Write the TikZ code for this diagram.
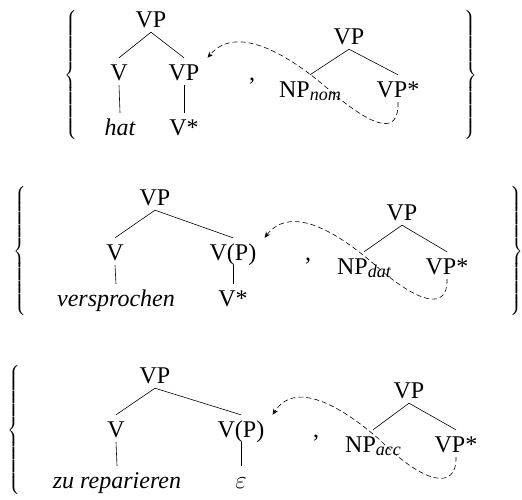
\documentclass[tikz,border=0pt]{standalone}
\usepackage{exscale}
\usepackage{fontspec}
\setmainfont{Liberation Serif}
\usetikzlibrary{arrows.meta}
\newcommand{\casesub}[1]{\raisebox{-3pt}{\fontsize{18}{18}\selectfont\itshape #1}}
\newcommand{\openset}{$\delimiterfactor=1000\delimitershortfall=0pt\left\{\vrule height 58pt depth 58pt width 0pt\right.$}
\newcommand{\closeset}{$\delimiterfactor=1000\delimitershortfall=0pt\left.\vrule height 58pt depth 58pt width 0pt\right\}$}

\begin{document}
\begin{tikzpicture}[
	x=1pt, y=-1pt,
	font=\fontsize{24}{28}\selectfont,
	cat/.style={ anchor=base, inner xsep=1pt, inner ysep=5pt, text height=17pt, text depth=0pt },
	edge/.style={ line width=0.6pt },
	move/.style={ -{Stealth[length=6pt,width=5pt]}, line width=0.6pt, dash pattern=on 5pt off 3pt },
	setbrace/.style={ font=\fontsize{14}{14}\selectfont, inner sep=0pt }
]
\useasboundingbox (0,0) rectangle (522,499);

% hat
\node at (71,75) (lb1) [setbrace] {\openset};
\node at (470,75) (rb1) [setbrace] {\closeset};
\node at (151,27) (vp1) [cat] {VP};
\node at (119,80) (v1) [cat] {V};
\node at (184,80) (vpb1) [cat] {VP};
\node at (120,135) (hat) [cat] {\itshape hat};
\node at (184,135) (vs1) [cat] {V*};
\draw[edge] (vp1.south) -- (v1.north);
\draw[edge] (vp1.south) -- (vpb1.north);
\draw[edge] (v1.south) -- (hat.north);
\draw[edge] (vpb1.south) -- (vs1.north);
\node at (252,80) (cm1) [cat] {,};
\node at (349,44) (vpr1) [cat] {VP};
\node at (310,97) (np1) [cat] {NP\casesub{nom}};
\node at (398,97) (vps1) [cat] {VP*};
\draw[edge] (vpr1.south) -- (np1.north);
\draw[edge] (vpr1.south) -- (vps1.north);
\draw[move] (vps1.south) .. controls (399,135) and (375,128) .. (335,95)
	.. controls (285,50) and (235,25) .. ([xshift=7pt]vpb1.north east);

% versprochen
\node at (20,251) (lb2) [setbrace] {\openset};
\node at (516,251) (rb2) [setbrace] {\closeset};
\node at (155,205) (vp2) [cat] {VP};
\node at (115,260) (v2) [cat] {V};
\node at (233,260) (vpb2) [cat] {V(P)};
\node at (116,306) (versp) [cat] {\itshape versprochen};
\node at (233,306) (vs2) [cat] {V*};
\draw[edge] (vp2.south) -- (v2.north);
\draw[edge] (vp2.south) -- (vpb2.north);
\draw[edge] (v2.south) -- (versp.north);
\draw[edge] (vpb2.south) -- (vs2.north);
\node at (308,260) (cm2) [cat] {,};
\node at (402,220) (vpr2) [cat] {VP};
\node at (364,274) (np2) [cat] {NP\casesub{dat}};
\node at (447,274) (vps2) [cat] {VP*};
\draw[edge] (vpr2.south) -- (np2.north);
\draw[edge] (vpr2.south) -- (vps2.north);
\draw[move] (vps2.south) .. controls (448,310) and (420,305) .. (375,265)
	.. controls (335,230) and (290,205) .. ([xshift=7pt]vpb2.north east);

% zu reparieren
\node at (15,430) (lb3) [setbrace] {\openset};
\node at (155,383) (vp3) [cat] {VP};
\node at (116,437) (v3) [cat] {V};
\node at (241,437) (vpb3) [cat] {V(P)};
\node at (117,488) (zurep) [cat] {\itshape zu reparieren};
\node at (241,488) (eps) [cat] {$\varepsilon$};
\draw[edge] (vp3.south) -- (v3.north);
\draw[edge] (vp3.south) -- (vpb3.north);
\draw[edge] (v3.south) -- (zurep.north);
\draw[edge] (vpb3.south) -- (eps.north);
\node at (316,437) (cm3) [cat] {,};
\node at (409,398) (vpr3) [cat] {VP};
\node at (373,452) (np3) [cat] {NP\casesub{acc}};
\node at (456,452) (vps3) [cat] {VP*};
\draw[edge] (vpr3.south) -- (np3.north);
\draw[edge] (vpr3.south) -- (vps3.north);
\draw[move] (vps3.south) .. controls (457,490) and (425,485) .. (380,440)
	.. controls (340,405) and (295,380) .. ([xshift=7pt]vpb3.north east);

\end{tikzpicture}
\end{document}
